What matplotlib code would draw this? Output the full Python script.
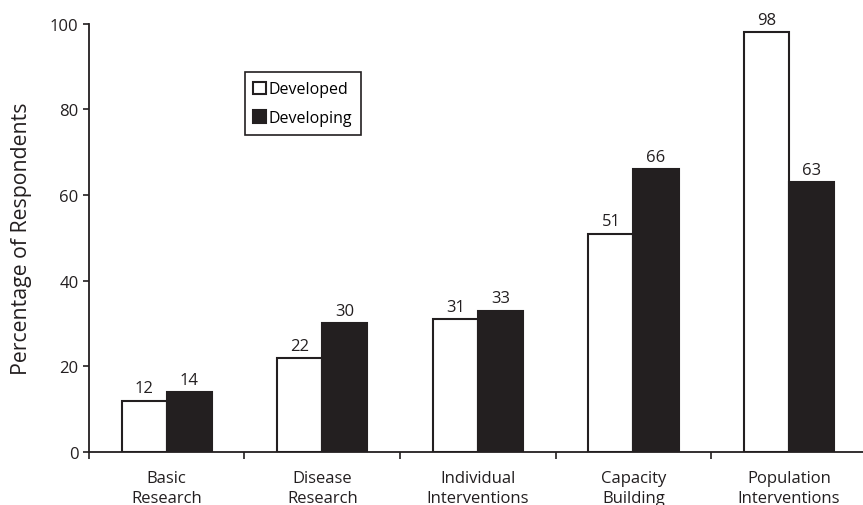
import matplotlib.pyplot as plt
import numpy as np

plt.rcParams['font.family'] = ['Open Sans', 'DejaVu Sans']

categories = ['Basic\nResearch', 'Disease\nResearch', 'Individual\nInterventions',
              'Capacity\nBuilding', 'Population\nInterventions']
developed = [12, 22, 31, 51, 98]
developing = [14, 30, 33, 66, 63]

ink = '#231f20'
x = np.arange(len(categories))
w = 0.29

fig = plt.figure(figsize=(8.63, 5.06), dpi=100)
ax = fig.add_axes([0.103, 0.105, 0.9015, 0.846])

b1 = ax.bar(x - w / 2, developed, w, color='white', edgecolor=ink, linewidth=1.5,
            label='Developed')
b2 = ax.bar(x + w / 2, developing, w, color=ink, edgecolor=ink, linewidth=1.5,
            label='Developing')
ax.bar_label(b1, padding=3, fontsize=12, color=ink)
ax.bar_label(b2, padding=3, fontsize=12, color=ink)

ax.set_xlim(-0.5, len(categories) - 0.5)
ax.set_ylim(0, 100)
ax.set_yticks(range(0, 101, 20))
ax.set_xticks(np.arange(len(categories) + 1) - 0.5)
ax.set_xticklabels([])
ax.set_xticks(x, categories, minor=True)
for lbl in ax.get_xticklabels(minor=True):
    lbl.set_linespacing(1.3)
ax.tick_params(axis='x', which='minor', length=0, pad=13, labelsize=12, colors=ink)
ax.tick_params(axis='x', which='major', length=5, width=1.2, color=ink)
ax.tick_params(axis='y', length=4, width=1.2, color=ink, labelsize=12, labelcolor=ink)

for side in ['top', 'right']:
    ax.spines[side].set_visible(False)
for side in ['left', 'bottom']:
    ax.spines[side].set_linewidth(1.3)
    ax.spines[side].set_color(ink)

ax.set_ylabel('Percentage of Respondents', fontsize=15.3, color=ink, labelpad=13)

leg = ax.legend(loc='upper left', bbox_to_anchor=(0.19, 0.905), fontsize=11.5,
                handlelength=0.8, handleheight=0.8, handletextpad=0.15,
                labelspacing=0.8, borderpad=0.55, fancybox=False, framealpha=1)
leg.get_frame().set_edgecolor(ink)
leg.get_frame().set_linewidth(1.2)

fig.savefig('out.png', dpi=100)
